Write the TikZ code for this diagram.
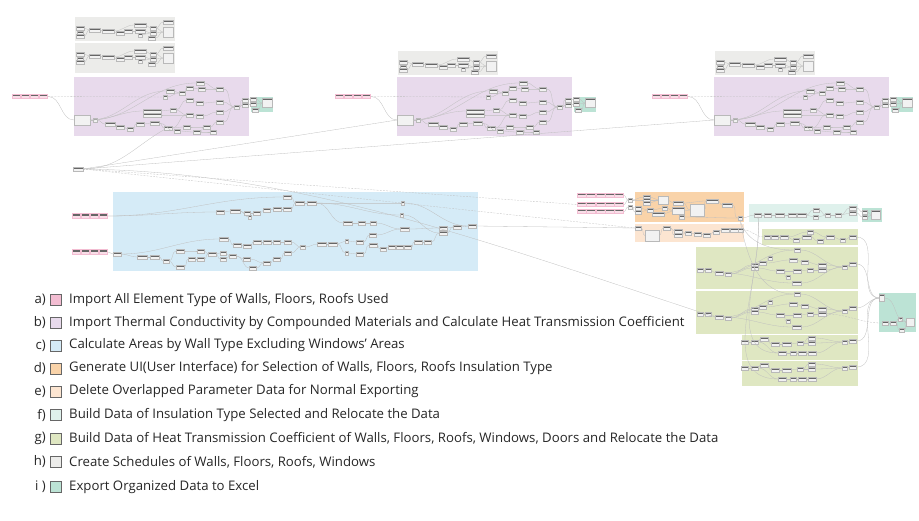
\documentclass[tikz,border=0pt]{standalone}
\usepackage{fontspec}
\setmainfont{Open Sans}
\definecolor{cpink}{HTML}{F3BDD2}
\definecolor{cpurp}{HTML}{E8DAEC}
\definecolor{cblue}{HTML}{D5EBF7}
\definecolor{corng}{HTML}{F9D3A9}
\definecolor{cpeach}{HTML}{FCE5D1}
\definecolor{cmint}{HTML}{DFF1EC}
\definecolor{cgreen}{HTML}{DFE7C2}
\definecolor{cgray}{HTML}{ECECEA}
\definecolor{cteal}{HTML}{BCE3D5}
\tikzset{
  dn/.style={draw=gray!55,fill=gray!10,line width=0.2pt,inner sep=0pt,outer sep=0pt,
    minimum width=#1,minimum height=3.4pt,
    path picture={\fill[black!60] (path picture bounding box.north west) rectangle ([yshift=-1.2pt]path picture bounding box.north east);}},
  dn/.default=7,
  pdn/.style={dn=#1,draw=none,fill=cpink!50!white},
  pdn/.default=7,
  inbar/.style={fill=cpink,inner sep=0pt,outer sep=0pt,minimum height=5.5pt,minimum width=#1},
  wire/.style={draw=gray!50,line width=0.3pt},
  dwire/.style={wire,dash pattern=on 2pt off 1.2pt},
  lgbox/.style={draw=black!60,line width=0.4pt,minimum size=11pt,inner sep=0pt},
  lgfont/.style={font=\fontsize{13.2}{15}\selectfont,text=black!85},
  lgtext/.style={lgfont,anchor=west,inner sep=0pt}
}
\begin{document}
\begin{tikzpicture}[x=1pt,y=-1pt]
\useasboundingbox (0,0) rectangle (919,520);

\foreach \hx/\hy/\hh [count=\j] in {0/17/24,0/43/30,323/51/24,640/51/24}{
\begin{scope}[shift={(\hx+75,\hy)}]
\fill[cgray] (0,0) rectangle (100,\hh);
\foreach \x/\y/\w [count=\k] in {5/11/8,5/16/6,5/19/8,20/13/11,33/14/12,45/16/8,53/14/8,65/8/12,65/14/10,65/18/4,78/11/6,78/16/6,77/21/7,93/5/10}
  \node[dn=\w] (h\j-\k) at (\x,\y) {};
\node[dn=10,minimum height=10pt] (h\j-big) at (93,15) {};
\foreach \a/\b in {1/4,3/4,4/5,5/6,6/7,7/9,5/8,8/11,9/12,10/12,11/14}
  \draw[wire] (h\j-\a.east) to[out=0,in=180] (h\j-\b.west);
\foreach \a in {11,12,13}
  \draw[wire] (h\j-\a.east) to[out=0,in=180] (h\j-big.west);
\end{scope}
}

\foreach \s/\dx in {1/0,2/323,3/640}{
\begin{scope}[shift={(\dx,0)}]
\fill[cpurp] (74,77) rectangle (249,136);
\fill[cteal] (251,97) rectangle (273,112);
\node[inbar=36] (a\s) at (30,96.5) {};
\foreach \u [count=\v] in {16.5,25.5,34.5,43.5} \node[pdn=7] (a\s-\v) at (\u,96.5) {};
\node[dn=16,minimum height=10pt] (s\s-big) at (82,120) {};
\foreach \x/\y/\w [count=\k] in {95/120/4,110/124/10,120/127/8,130/129/6,140/124/8,155/123/9,152/111/18,152/115/18,165/97/4,170/91/8,173/110/6,168/128/8,177/131/6,182/93/6,190/88/7,190/100/7,190/115/7,187/127/7,200/83/8,202/89/7,200/103/7,200/116/7,197/132/7,207/127/7,213/132/6,220/89/7,220/102/7,220/112/7,220/122/7,237/107/5,245/100/6,245/105/6}
  \node[dn=\w] (s\s-\k) at (\x,\y) {};
\foreach \x/\y [count=\k] in {253/99,253/104,255/110} \node[dn=6] (t\s-\k) at (\x,\y) {};
\node[dn=10,minimum height=9pt] (t\s-big) at (267,103) {};
\draw[wire] (a\s.east) to[out=0,in=180] (s\s-big.west);
\draw[dwire] (a\s.east) -- (s\s-9.west);
\foreach \e in {1,7,10,19} \draw[wire] (s\s-big.east) to[out=0,in=180] (s\s-\e.west);
\foreach \a/\b in {1/2,2/3,3/4,4/5,5/6,6/12,12/18,18/24,24/29,7/11,8/17,11/16,11/17,9/14,10/14,14/15,15/20,20/26,16/21,21/27,17/22,22/28,6/13,13/23,23/25,23/24,19/26,26/30,27/30,28/30,29/30,30/31,30/32,12/17}
  \draw[wire] (s\s-\a.east) to[out=0,in=180] (s\s-\b.west);
\draw[wire] (s\s-31.east) to[out=0,in=180] (t\s-1.west);
\draw[wire] (s\s-32.east) to[out=0,in=180] (t\s-2.west);
\foreach \k in {1,2,3} \draw[wire] (t\s-\k.east) to[out=0,in=180] (t\s-big.west);
\end{scope}
}

\fill[cblue] (113,192) rectangle (478,271);
\node[inbar=36] (a4) at (90,216) {};
\node[inbar=36] (a5) at (90,252) {};
\foreach \u [count=\v] in {76.5,85.5,94.5,103.5}{
  \node[pdn=7] (a4-\v) at (\u,216) {};
  \node[pdn=7] (a5-\v) at (\u,252) {};
}
\foreach \x/\y/\w [count=\k] in {220/212/8,235/211/10,247/213/6,250/217/3,257/213/7,267/210/7,277/209/8,287/209/8,287/197/8,300/203/9,312/203/9,403/203/3,402/215/3,348/223/9,362/223/7,373/223/6,405/229/9,443/228/8,443/233/8,457/227/8,472/226/8,117/254/8,142/257/10,155/257/9,166/261/6,180/251/8,180/267/8,192/259/7,201/251/7,201/259/7,212/254/8,223/253/6,223/259/6,224/239/9,237/245/8,247/246/8,233/256/7,247/259/7,253/268/7,257/242/8,267/242/8,277/242/7,288/242/7,288/253/7,277/259/7,267/263/7,303/247/5,322/244/9,333/244/9,347/241/3,347/253/3,360/242/7,360/254/7,373/235/7,373/245/8,383/249/6,392/247/7,400/247/7,408/247/7,418/242/8,428/242/7}
  \node[dn=\w] (c\k) at (\x,\y) {};
\draw[wire] (a4.east) to[out=0,in=180] (c1.west);
\draw[wire] (a4.east) to[out=0,in=180] (c9.west);
\draw[wire] (a5.east) to[out=0,in=180] (c22.west);
\foreach \a/\b in {1/2,2/3,3/5,2/4,5/6,6/7,7/8,8/10,9/10,10/11,11/14,14/15,15/16,16/17,17/18,18/20,19/20,20/21,11/12,12/21,11/13,13/19,22/23,23/24,24/25,25/26,25/27,26/29,27/28,28/30,29/31,30/31,31/32,31/33,32/37,33/37,37/38,37/39,38/46,39/46,46/45,45/44,22/34,34/35,35/36,36/40,40/41,41/42,42/43,43/47,44/47,47/48,48/49,49/50,49/51,50/52,51/53,52/54,53/55,55/56,56/57,57/58,58/59,59/60,60/61,61/19,54/17}
  \draw[wire] (c\a.east) to[out=0,in=180] (c\b.west);

\fill[corng] (635,192) rectangle (744,222);
\fill[cpeach] (635,224) rectangle (744,242);
\fill[cmint] (749,204) rectangle (858,222);
\fill[cteal] (862,208) rectangle (882,222);
\fill[cgreen] (762,229) rectangle (858,245);
\fill[cgreen] (696,247) rectangle (858,289);
\fill[cgreen] (696,291) rectangle (858,334);
\fill[cgreen] (742,335) rectangle (858,360);
\fill[cgreen] (742,361) rectangle (858,386);
\fill[cteal] (879,293) rectangle (916,332);

\foreach \y [count=\v] in {195.5,204.5,211.5}{
  \node[inbar=47] (p\v) at (600.5,\y) {};
  \foreach \u [count=\r] in {-18.8,-9.4,0,9.4,18.8} \node[pdn=8] (p\v-\r) at (600.5+\u,\y) {};
}
\node[dn=4] (q1) at (630,200) {};
\node[dn=4] (q2) at (630,207) {};
\foreach \x/\y/\w [count=\k] in {647/197/7,647/200/7,647/203/7,638/208/6,638/212/6,650/210/6,665/208/5,658/214/12,678/203/10,682/217/5,712/201/12,727/205/10,740/218/4}
  \node[dn=\w] (d\k) at (\x,\y) {};
\node[dn=10,minimum height=8pt] (dA) at (663,200) {};
\node[dn=12,minimum height=7pt] (dB) at (678,211) {};
\node[dn=14,minimum height=12pt] (dC) at (697,210) {};
\foreach \x/\y/\w [count=\k] in {638/228/6,667/228/7,678/231/8,678/235/8,688/233/6,698/234/7,707/235/7,716/232/6,725/230/8,734/230/8,741/230/5}
  \node[dn=\w] (e\k) at (\x,\y) {};
\node[dn=14,minimum height=11pt] (eA) at (652,235.5) {};
\foreach \x/\y/\w [count=\k] in {758/215/7,768/215/7,780/215/9,792/215/8,802/215/9,816/210/6,816/217/5,828/215/5,838/215/6,853/208/7,853/213/7}
  \node[dn=\w] (f\k) at (\x,\y) {};
\node[dn=5] (k1) at (865,212) {};
\node[dn=5] (k2) at (865,217) {};
\node[dn=9,minimum height=9pt] (kA) at (876,215) {};
\foreach \x/\y/\w [count=\k] in {767/237/6,775/237/7,784/237/8,796/240/6,807/237/9,810/232/6,820/241/6,830/237/8,843/240/5,853/237/7}
  \node[dn=\w] (g1-\k) at (\x,\y) {};
\foreach \gi/\gy in {2/0,3/44}{
  \foreach \x/\y/\w [count=\k] in {700/270/6,708/270/6,719/273/8,728/274/6,755/265/7,755/268/7,763/263/7,770/258/4,780/271/8,788/277/4,793/260/8,797/250/6,797/271/8,797/283/9,805/262/7,810/270/6,822/265/8,822/270/8,845/267/5,853/264/7}
    \node[dn=\w] (g\gi-\k) at (\x,\y+\gy) {};
  \foreach \a/\b in {1/2,2/3,3/4,4/5,4/6,5/7,6/9,7/8,7/11,9/10,3/12,3/14,9/13,11/15,13/16,15/17,16/18,17/19,18/19,12/19,14/19,19/20}
    \draw[wire] (g\gi-\a.east) to[out=0,in=180] (g\gi-\b.west);
}
\foreach \gi/\gy in {4/0,5/26}{
  \foreach \x/\y/\w [count=\k] in {745/342/7,755/342/7,764/339/8,775/344/8,787/344/9,800/343/6,812/338/7,812/343/7,782/353/8,793/353/6,802/353/8,812/353/8,845/342/5,853/341/7}
    \node[dn=\w] (g\gi-\k) at (\x,\y+\gy) {};
  \foreach \a/\b in {1/2,2/3,3/4,4/5,5/6,6/7,6/8,2/9,9/10,10/11,11/12,7/13,8/13,12/13,13/14}
    \draw[wire] (g\gi-\a.east) to[out=0,in=180] (g\gi-\b.west);
}
\node[dn=5,minimum height=7pt] (m1) at (882,298) {};
\foreach \x/\y/\w [count=\k] in {885/323/6,893/323/6,900/319/4,902/330/5}
  \node[dn=\w] (m\the\numexpr\k+1\relax) at (\x,\y) {};
\node[dn=8,minimum height=8pt] (mA) at (910,322) {};

\foreach \a/\b in {p1/q1,p2/q1,p3/q2,q1/d1,q1/d2,q2/d4,q2/d5,d1/dA,d2/dA,d3/dA,d4/d6,d5/d6,d6/d7,d7/dB,d8/dB,dA/d9,d9/dC,dB/dC,dC/d11,d9/d11,d11/d12,d12/d13,d10/d13,
  e1/eA,eA/e2,e2/e3,e2/e4,e3/e5,e4/e5,e5/e6,e6/e7,e7/e8,e8/e9,e9/e10,e10/e11,
  d13/f1,f1/f2,f2/f3,f3/f4,f4/f5,f5/f6,f5/f7,f6/f8,f7/f8,f8/f9,f9/f10,f9/f11,f10/k1,f11/k2,k1/kA,k2/kA,
  g1-1/g1-2,g1-2/g1-3,g1-3/g1-4,g1-4/g1-5,g1-3/g1-6,g1-5/g1-7,g1-6/g1-8,g1-7/g1-8,g1-8/g1-9,g1-9/g1-10,
  g1-10/m1,g2-20/m1,g3-20/m1,g4-14/m1,g5-14/m1,m2/m3,m3/m4,m3/m5,m4/mA,m5/mA,m1/mA}
  \draw[wire] (\a.east) to[out=0,in=180] (\b.west);
\draw[dwire] (e11.east) to[out=0,in=180] (g1-1.west);
\draw[dwire] (g3-18.east) to[out=0,in=180] (m2.west);
\draw[wire] (d13.south) to[out=-75,in=180] (g2-12.west);
\draw[wire] (d13.south) to[out=-80,in=180] (g3-12.west);
\draw[wire] (f1.south) to[out=-85,in=180] (g4-9.west);
\draw[wire] (f1.south) to[out=-85,in=180] (g5-9.west);

\node[dn=10] (hub) at (78,169) {};
\draw[wire] (hub.east) to[out=0,in=-150] (s1-12.south west);
\draw[wire] (hub.east) -- (s2-big.west);
\draw[wire] (hub.east) -- (s3-big.west);
\draw[dwire] (hub.east) -- (p2.west);
\draw[dwire] (hub.east) -- (e1.west);
\draw[wire] (hub.east) .. controls (300,172) and (480,240) .. (g3-3.west);
\draw[wire] (c21.east) -- (e1.west);

\foreach \lb/\ly/\lc/\lt [count=\n] in {
  a)/300/cpink/{Import All Element Type of Walls, Floors, Roofs Used},
  b)/323/cpurp/{Import Thermal Conductivity by Compounded Materials and Calculate Heat Transmission Coefficient},
  c)/345.5/cblue/{Calculate Areas by Wall Type Excluding Windows’ Areas},
  d)/368.5/corng/{Generate UI(User Interface) for Selection of Walls, Floors, Roofs Insulation Type},
  e)/391.5/cpeach/{Delete Overlapped Parameter Data for Normal Exporting},
  f)/415/cmint/{Build Data of Insulation Type Selected and Relocate the Data},
  g)/438.5/cgreen/{Build Data of Heat Transmission Coefficient of Walls, Floors, Roofs, Windows, Doors and Relocate the Data},
  h)/462/cgray/{Create Schedules of Walls, Floors, Roofs, Windows},
  i )/487/cteal/{Export Organized Data to Excel}}{
  \node[lgfont,anchor=east,inner sep=0pt] (ll\n) at (46,\ly) {\lb};
  \node[lgbox,fill=\lc] (lb\n) at (56,\ly) {};
  \node[lgtext] (lt\n) at (69,\ly) {\lt};
}
\end{tikzpicture}
\end{document}
